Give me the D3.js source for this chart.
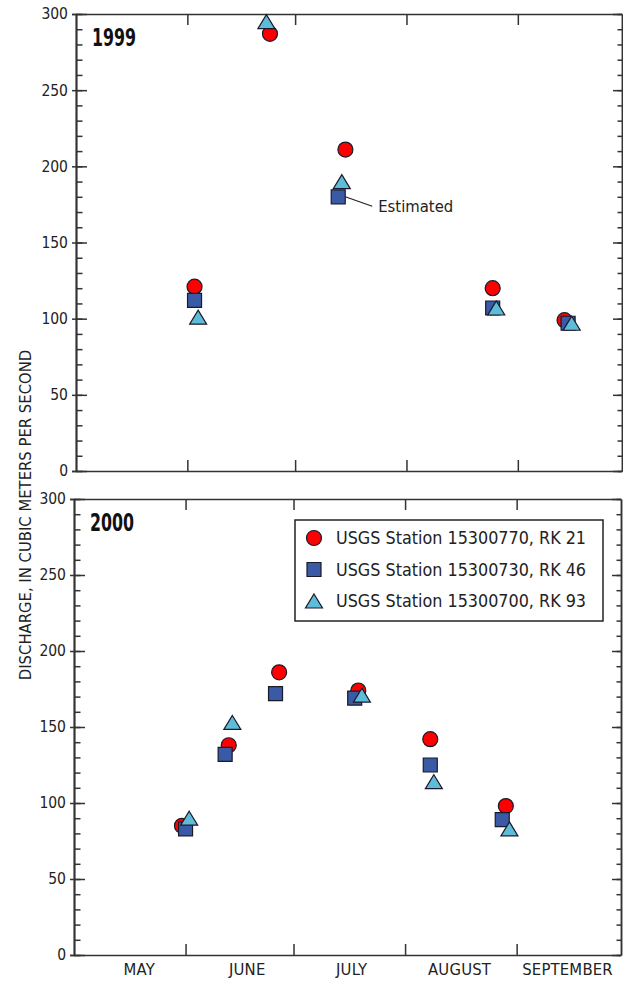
<!DOCTYPE html>
<html>
<head>
<meta charset="utf-8">
<script src="https://cdn.jsdelivr.net/npm/d3@7"></script>
<style>
  body { margin: 0; background: #fff; }
  svg { display: block; }
  svg text { font-family: "DejaVu Sans", sans-serif; font-stretch: condensed; }
  .axis path, .axis line { stroke: #333; stroke-width: 1.5; }
  .axis text { fill: #222; }
</style>
</head>
<body>
<svg id="chart" width="623" height="981"></svg>
<script>
// station names (legend order)
const stations = ["USGS Station 15300770, RK 21", "USGS Station 15300730, RK 46", "USGS Station 15300700, RK 93"]
const years = ["1999", "2000"]

// discharge, m3/s
const rk21_1999 = [["1999-06-03", 121], ["1999-06-24", 287], ["1999-07-15", 211], ["1999-08-25", 120], ["1999-09-14", 99]]
const rk46_1999 = [["1999-06-03", 112], ["1999-07-13", 180], ["1999-08-25", 107], ["1999-09-15", 97]]
const rk93_1999 = [["1999-06-04", 101], ["1999-06-23", 295], ["1999-07-14", 190], ["1999-08-26", 107], ["1999-09-16", 97]]

const rk21_2000 = [["2000-05-31", 85], ["2000-06-13", 138], ["2000-06-27", 186], ["2000-07-19", 174], ["2000-08-08", 142], ["2000-08-29", 98]]
const rk46_2000 = [["2000-06-01", 83], ["2000-06-12", 132], ["2000-06-26", 172], ["2000-07-18", 169], ["2000-08-08", 125], ["2000-08-28", 89]]
const rk93_2000 = [["2000-06-02", 90], ["2000-06-14", 153], ["2000-07-20", 171], ["2000-08-09", 114], ["2000-08-30", 83]]

// the RK 46 value flagged as estimated in 1999
const estimated1999 = ["1999-07-13", 180]

const yMajorTicks = [0, 50, 100, 150, 200, 250, 300]
const monthLabels = ["MAY", "JUNE", "JULY", "AUGUST", "SEPTEMBER"]
const monthLabelDays = ["05-19", "06-18", "07-17", "08-16", "09-15"]

const colours = ["#ff0000", "#3a5aa6", "#5ebcd8"]
const parse = d3.timeParse("%Y-%m-%d")

const svg = d3.select("#chart")

const panels = [
  { year: years[0], series: [rk21_1999, rk46_1999, rk93_1999], top: 14, bottom: 471, left: 76, right: 622 },
  { year: years[1], series: [rk21_2000, rk46_2000, rk93_2000], top: 499, bottom: 955, left: 74, right: 621 }
]

function triangle(w, h) {
  return `M0,${-h / 2}L${w / 2},${h / 2}L${-w / 2},${h / 2}Z`
}
const circlePath = d3.symbol().type(d3.symbolCircle).size(Math.PI * 7.5 * 7.5)()
const squarePath = d3.symbol().type(d3.symbolSquare).size(14 * 14)()
const markerPaths = [circlePath, squarePath, triangle(17, 14)]

function styleAxis(g) {
  g.attr("class", "axis")
}

panels.forEach(function(p, i) {
  const x = d3.scaleTime()
      .domain([parse(p.year + "-05-01"), parse(p.year + "-09-30")])
      .range([p.left, p.right])
  const y = d3.scaleLinear()
      .domain([0, 300])
      .range([p.bottom, p.top])

  const monthStarts = d3.timeMonth.range(parse(p.year + "-06-01"), parse(p.year + "-09-02"))
  const minor = d3.range(0, 301, 10)

  // left axis: outward stubs, inward major ticks with labels, inward minor ticks
  svg.append("g").attr("transform", `translate(${p.left},0)`)
      .call(d3.axisLeft(y).tickValues(yMajorTicks).tickSize(4).tickFormat(""))
      .call(styleAxis)
  svg.append("g").attr("transform", `translate(${p.left},0)`)
      .call(d3.axisLeft(y).tickValues(minor).tickSize(-6.5).tickSizeOuter(0).tickFormat(""))
      .call(styleAxis)
  svg.append("g").attr("transform", `translate(${p.left},0)`)
      .call(d3.axisLeft(y).tickValues(yMajorTicks).tickSizeInner(-11).tickSizeOuter(0).tickPadding(8))
      .call(styleAxis)
      .call(g => g.selectAll("text").attr("font-size", 15.5).attr("font-family", null))

  // right axis (ticks inward only)
  svg.append("g").attr("transform", `translate(${p.right},0)`)
      .call(d3.axisRight(y).tickValues(minor).tickSize(-4.5).tickSizeOuter(0).tickFormat(""))
      .call(styleAxis)
  svg.append("g").attr("transform", `translate(${p.right},0)`)
      .call(d3.axisRight(y).tickValues(yMajorTicks).tickSize(-9).tickSizeOuter(0).tickFormat(""))
      .call(styleAxis)

  // top and bottom axes, month boundary ticks inward
  svg.append("g").attr("transform", `translate(0,${p.top})`)
      .call(d3.axisTop(x).tickValues(monthStarts).tickSize(-11).tickSizeOuter(0).tickFormat(""))
      .call(styleAxis)
  svg.append("g").attr("transform", `translate(0,${p.bottom})`)
      .call(d3.axisBottom(x).tickValues(monthStarts).tickSize(-11).tickSizeOuter(0).tickFormat(""))
      .call(styleAxis)

  if (i === 1) {
    const labelDates = monthLabelDays.map(d => parse(p.year + "-" + d))
    svg.append("g").attr("transform", `translate(0,${p.bottom})`)
        .call(d3.axisBottom(x).tickValues(labelDates).tickSize(0).tickPadding(8)
          .tickFormat((d, k) => monthLabels[k]))
        .call(styleAxis)
        .call(g => g.select(".domain").remove())
        .call(g => g.selectAll("text").attr("font-size", 16.5).attr("font-family", null).attr("letter-spacing", 0.2))
  }

  // year label
  svg.append("text")
      .attr("x", p.left + 16)
      .attr("y", p.top + 32)
      .attr("font-weight", "bold")
      .attr("font-size", 24)
      .attr("textLength", 44)
      .attr("lengthAdjust", "spacingAndGlyphs")
      .attr("fill", "#111")
      .text(p.year)

  // markers: circles, then squares, then triangles on top
  p.series.forEach(function(series, s) {
    svg.append("g")
      .selectAll("path")
      .data(series)
      .enter().append("path")
        .attr("d", markerPaths[s])
        .attr("transform", d => `translate(${x(parse(d[0]))},${y(d[1])})`)
        .attr("fill", colours[s])
        .attr("stroke", "#1a1a2a")
        .attr("stroke-width", 1.2)
  })

  if (i === 0) {
    const ex = x(parse(estimated1999[0])), ey = y(estimated1999[1])
    svg.append("line")
        .attr("x1", ex + 7).attr("y1", ey)
        .attr("x2", ex + 34).attr("y2", ey + 9.5)
        .attr("stroke", "#222").attr("stroke-width", 1.2)
    svg.append("text")
        .attr("x", ex + 40)
        .attr("y", ey + 15)
        .attr("font-size", 16.5)
        .attr("fill", "#222")
        .text("Estimated")
  }

  if (i === 1) {
    // legend
    const lg = svg.append("g").attr("transform", `translate(${p.left + 221},${p.top + 21})`)
    lg.append("rect")
        .attr("width", 308).attr("height", 101)
        .attr("fill", "#fff").attr("stroke", "#222").attr("stroke-width", 1.5)
    stations.forEach(function(name, s) {
      const row = lg.append("g").attr("transform", `translate(19,${18 + s * 31.5})`)
      row.append("path")
          .attr("d", markerPaths[s])
          .attr("fill", colours[s])
          .attr("stroke", "#1a1a2a")
          .attr("stroke-width", 1.2)
      row.append("text")
          .attr("x", 22)
          .attr("dy", "0.36em")
          .attr("font-size", 17.8)
          .attr("fill", "#222")
          .text(name)
    })
  }
})

// shared y axis title
svg.append("text")
    .attr("transform", "translate(31,515) rotate(-90)")
    .attr("text-anchor", "middle")
    .attr("font-size", 16.5)
    .attr("fill", "#222")
    .text("DISCHARGE, IN CUBIC METERS PER SECOND")
</script>
</body>
</html>
